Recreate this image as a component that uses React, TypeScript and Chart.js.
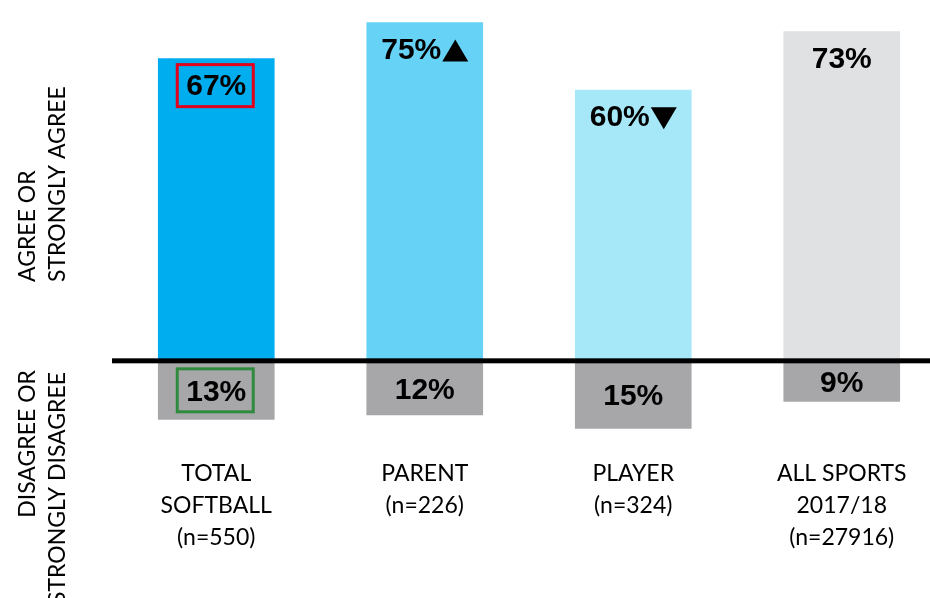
import React, { useEffect, useRef } from "react";
import { Chart, registerables } from "chart.js";

Chart.register(...registerables);

const categories: string[][] = [
  ["TOTAL", "SOFTBALL", "(n=550)"],
  ["PARENT", "(n=226)"],
  ["PLAYER", "(n=324)"],
  ["ALL SPORTS", "2017/18", "(n=27916)"],
];
const agreeValues = [67, 75, 60, 73];
const disagreeValues = [13, 12, 15, 9];
const agreeColors = ["#00AEEF", "#66D3F6", "#A6E8F7", "#E0E1E3"];
const disagreeColor = "#A7A7AA";
const changeMarks = ["", "up", "down", ""];
const boxedAgree = [true, false, false, false];
const boxedDisagree = [true, false, false, false];

const labelFont = "Lato, 'Open Sans', sans-serif";

const overlayPlugin = {
  id: "overlay",
  afterDatasetsDraw(chart: any) {
    const ctx = chart.ctx;
    const y = chart.scales.y;
    const zeroY = y.getPixelForValue(0);
    const agreeMeta = chart.getDatasetMeta(0);
    const disMeta = chart.getDatasetMeta(1);
    ctx.save();
    // baseline
    ctx.fillStyle = "#000";
    ctx.fillRect(chart.chartArea.left, zeroY - 2.5, 930 - chart.chartArea.left, 5);

    ctx.font = "bold 30px 'Liberation Sans', Arial, sans-serif";
    ctx.textBaseline = "middle";
    ctx.textAlign = "left";
    agreeMeta.data.forEach((bar: any, i: number) => {
      const txt = agreeValues[i] + "%";
      const w = ctx.measureText(txt).width;
      const mark = changeMarks[i];
      const triW = mark ? 26 : 0;
      const gap = mark ? 1 : 0;
      const total = w + gap + triW;
      const x0 = bar.x - total / 2;
      const cy = bar.y + 28;
      ctx.fillStyle = "#000";
      ctx.fillText(txt, x0, cy);
      if (mark) {
        const tx = x0 + w + gap;
        const top = cy - 11;
        const bot = cy + 11;
        ctx.beginPath();
        if (mark === "up") {
          ctx.moveTo(tx, bot);
          ctx.lineTo(tx + triW, bot);
          ctx.lineTo(tx + triW / 2, top);
        } else {
          ctx.moveTo(tx, top);
          ctx.lineTo(tx + triW, top);
          ctx.lineTo(tx + triW / 2, bot);
        }
        ctx.closePath();
        ctx.fill();
      }
      if (boxedAgree[i]) {
        ctx.strokeStyle = "#E2001A";
        ctx.lineWidth = 3;
        ctx.strokeRect(bar.x - 39, cy - 22, 76, 42);
      }
    });
    disMeta.data.forEach((bar: any, i: number) => {
      const txt = disagreeValues[i] + "%";
      const cy = (bar.y + bar.base) / 2 + 2.5;
      ctx.textAlign = "center";
      ctx.fillStyle = "#000";
      ctx.fillText(txt, bar.x, cy);
      if (boxedDisagree[i]) {
        ctx.strokeStyle = "#2E8B3E";
        ctx.lineWidth = 3;
        ctx.strokeRect(bar.x - 39, zeroY + 8, 76, 43);
      }
    });

    // side titles
    ctx.fillStyle = "#000";
    ctx.font = `23px ${labelFont}`;
    ctx.textBaseline = "middle";
    const drawRot = (text: string, x: number, yy: number, align: CanvasTextAlign) => {
      ctx.save();
      ctx.translate(x, yy);
      ctx.rotate(-Math.PI / 2);
      ctx.textAlign = align;
      ctx.fillText(text, 0, 0);
      ctx.restore();
    };
    drawRot("AGREE OR", 28, 282, "left");
    drawRot("STRONGLY AGREE", 58, 282, "left");
    drawRot("DISAGREE OR", 28, 370, "right");
    drawRot("STRONGLY DISAGREE", 58, 372, "right");
    ctx.restore();
  },
};

export default function App() {
  const ref = useRef<HTMLCanvasElement>(null);
  useEffect(() => {
    if (!ref.current) return;
    const chart = new Chart(ref.current, {
      type: "bar",
      data: {
        labels: categories,
        datasets: [
          {
            label: "Agree or strongly agree",
            data: agreeValues,
            backgroundColor: agreeColors,
            barThickness: 116,
          },
          {
            label: "Disagree or strongly disagree",
            data: disagreeValues.map((v) => -v),
            backgroundColor: disagreeColor,
            barThickness: 116,
          },
        ],
      },
      options: {
        responsive: false,
        animation: false,
        events: [],
        layout: { padding: { left: 112, right: 0, top: 0, bottom: 0 } },
        plugins: { legend: { display: false }, tooltip: { enabled: false } },
        scales: {
          x: {
            stacked: true,
            grid: { display: false, drawTicks: false },
            border: { display: false },
            ticks: {
              padding: 15,
              color: "#000",
              font: { family: labelFont, size: 23, lineHeight: 1.4 },
              maxRotation: 0,
              autoSkip: false,
            },
            afterFit: (scale: any) => {
              scale.height = 156;
            },
          },
          y: {
            stacked: true,
            display: false,
            min: -18,
            max: 80,
          },
        },
      },
      plugins: [overlayPlugin],
    });
    return () => chart.destroy();
  }, []);
  return (
    <div
      style={{
        position: "fixed",
        left: 0,
        top: 0,
        width: 930,
        height: 598,
        overflow: "hidden",
        background: "#fff",
      }}
    >
      <canvas ref={ref} width={946} height={598} style={{ display: "block" }} />
    </div>
  );
}
